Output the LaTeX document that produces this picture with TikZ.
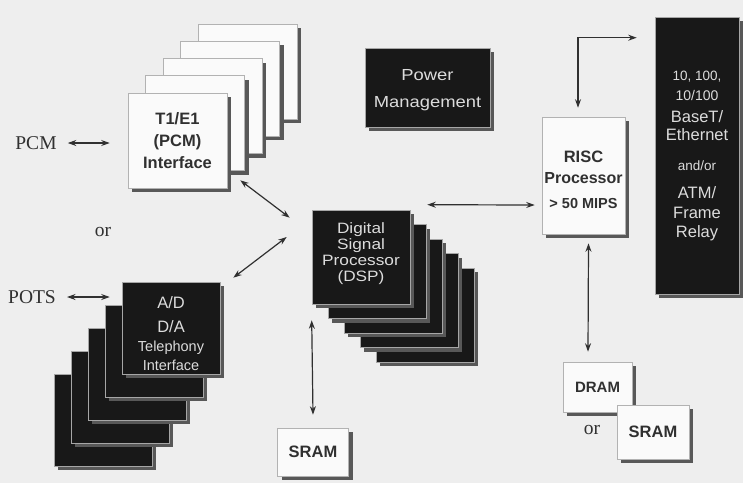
\documentclass[tikz,border=0pt]{standalone}
\usepackage{fontspec}
\setmainfont{Liberation Serif}
\setsansfont{Liberation Sans}
\newfontfamily\widesf{Liberation Sans}[FakeStretch=1.15]
\usepackage{xcolor}
\usepackage{tikz}
\usetikzlibrary{arrows.meta,positioning,calc}

\definecolor{paper}{RGB}{238,238,238}
\definecolor{ink}{RGB}{24,24,24}
\definecolor{shadowgray}{RGB}{88,88,88}
\definecolor{lighttext}{RGB}{220,220,220}
\definecolor{darktext}{RGB}{48,48,48}

\begin{document}
\begin{tikzpicture}[
    x=1pt, y=-1pt,
    cardshadow/.style={fill=shadowgray},
    whitebox/.style={rectangle, draw=gray!60, fill=white!96!gray, line width=0.6pt, inner sep=0pt, text=darktext, align=center},
    darkbox/.style={rectangle, draw=gray!70, fill=ink, line width=0.6pt, inner sep=0pt, text=lighttext, align=center},
    dbl/.style={{Stealth[length=8.5pt,width=6pt]}-{Stealth[length=8.5pt,width=6pt]}, line width=1.2pt, draw=darktext},
    lbl/.style={inner sep=0pt, text=darktext, font=\fontsize{19.5}{22}\selectfont}
]
\fill[paper] (0,0) rectangle (743,483);

% T1/E1 cards, back to front
\foreach \i in {4,3,2,1,0} {
  \fill[cardshadow] (132+17.5*\i, 97-17.25*\i) rectangle ++(99,95);
  \node[whitebox, minimum width=99pt, minimum height=95pt] at (177.5+17.5*\i, 140.5-17.25*\i) {};
}
\node[whitebox, minimum width=99pt, minimum height=95pt, font=\sffamily\bfseries\fontsize{16.5}{22}\selectfont] (pcmif) at (177.5,140.5) {T1/E1\\(PCM)\\Interface};

% telephony cards
\foreach \i in {4,3,2,1,0} {
  \fill[cardshadow] (126-17*\i, 286+23*\i) rectangle ++(98,92);
  \node[darkbox, minimum width=98pt, minimum height=92pt] at (171-17*\i, 328+23*\i) {};
}
\node[darkbox, minimum width=98pt, minimum height=92pt,
  label={[align=center, text=lighttext, yshift=-6pt, font=\sffamily\fontsize{14.5}{19}\selectfont]center:{\fontsize{16.5}{19}\selectfont A/D}\\[5pt]{\fontsize{16.5}{19}\selectfont D/A}\\Telephony\\Interface}] (adif) at (171,328) {};

% DSP cards
\foreach \i in {4,3,2,1,0} {
  \fill[cardshadow] (316+16*\i, 214+14.5*\i) rectangle ++(98,94);
  \node[darkbox, minimum width=98pt, minimum height=94pt] at (361+16*\i, 257+14.5*\i) {};
}
\node[darkbox, minimum width=98pt, minimum height=94pt,
  label={[align=center, text=lighttext, yshift=3pt, font=\widesf\fontsize{15}{16}\selectfont]center:Digital\\Signal\\Processor\\(DSP)}] (dsp) at (361,257) {};

% single boxes
\fill[cardshadow] (369,52) rectangle ++(125,79);
\node[darkbox, minimum width=125pt, minimum height=79pt,
  label={[align=center, text=lighttext, yshift=-3pt, font=\widesf\fontsize{16}{27}\selectfont]center:Power\\Management}] (power) at (427.5,87.5) {};

\fill[cardshadow] (546,121) rectangle ++(83,117);
\node[whitebox, minimum width=83pt, minimum height=117pt,
  label={[align=center, text=darktext, yshift=-4.5pt, font=\sffamily\bfseries\fontsize{16}{21}\selectfont]center:{\fontsize{16.5}{21}\selectfont RISC}\\Processor\\[4pt]{\fontsize{14.5}{21}\selectfont > 50 MIPS}}] (risc) at (583.5,175.5) {};

\fill[cardshadow] (659,21) rectangle ++(84,277);
\node[darkbox, minimum width=84pt, minimum height=277pt, font=\sffamily\fontsize{16.5}{19}\selectfont] (eth) at (697,155.5)
  {{\fontsize{13.5}{19}\selectfont 10, 100,}\\[1pt]{\fontsize{14}{19}\selectfont 10/100}\\[3pt]BaseT/\\[-1pt]Ethernet\\[11pt]%
   {\fontsize{13.5}{19}\selectfont and/or}\\[9pt]ATM/\\[1pt]Frame\\[0pt]Relay};

\fill[cardshadow] (567,366) rectangle ++(69,50);
\node[whitebox, minimum width=69pt, minimum height=50pt, font=\sffamily\bfseries\fontsize{15}{18}\selectfont] (dram) at (597.5,387) {DRAM};
\fill[cardshadow] (621,409) rectangle ++(72,54);
\node[whitebox, minimum width=72pt, minimum height=54pt, font=\sffamily\bfseries\fontsize{16.5}{18}\selectfont] (sramr) at (653,432) {SRAM};
\fill[cardshadow] (281.5,432) rectangle ++(71,48);
\node[whitebox, minimum width=71pt, minimum height=48pt, font=\sffamily\bfseries\fontsize{16.5}{18}\selectfont] (sraml) at (313,452) {SRAM};

% outside labels
\node[lbl] (pcm) at (36,143) {PCM};
\node[lbl] (pots) at (32,297) {POTS};
\node[lbl] (or1) at (103,232) {or};
\node[lbl] (or2) at (592,430) {or};

% connectors
\draw[dbl, shorten <=11pt, shorten >=18pt] (pcm.east) -- (pcmif.west |- pcm.east);
\draw[dbl, shorten <=11pt, shorten >=12pt] (pots.east) -- (adif.west |- pots.east);
\draw[dbl] ($(pcmif.south east)+(13,-8)$) -- ($(dsp.north west)+(-22,8)$);
\draw[dbl] ($(dsp.west)+(-25,-20)$) -- ($(adif.north east)+(13,-4)$);
\draw[dbl] ($(dsp.north east)+(17,-5)$) -- ($(risc.west)+(-7,29.5)$);
\draw[dbl] ($(dsp.south west)+(0,16)$) -- ($(sraml.north)+(0,-13)$);
\draw[dbl] ($(risc.south)+(5,9)$) -- ($(dram.north)+(-9.5,-10)$);
\draw[dbl] ($(risc.north)+(-5.5,-9)$) |- ($(eth.north west)+(-18,21)$);
\end{tikzpicture}
\end{document}
